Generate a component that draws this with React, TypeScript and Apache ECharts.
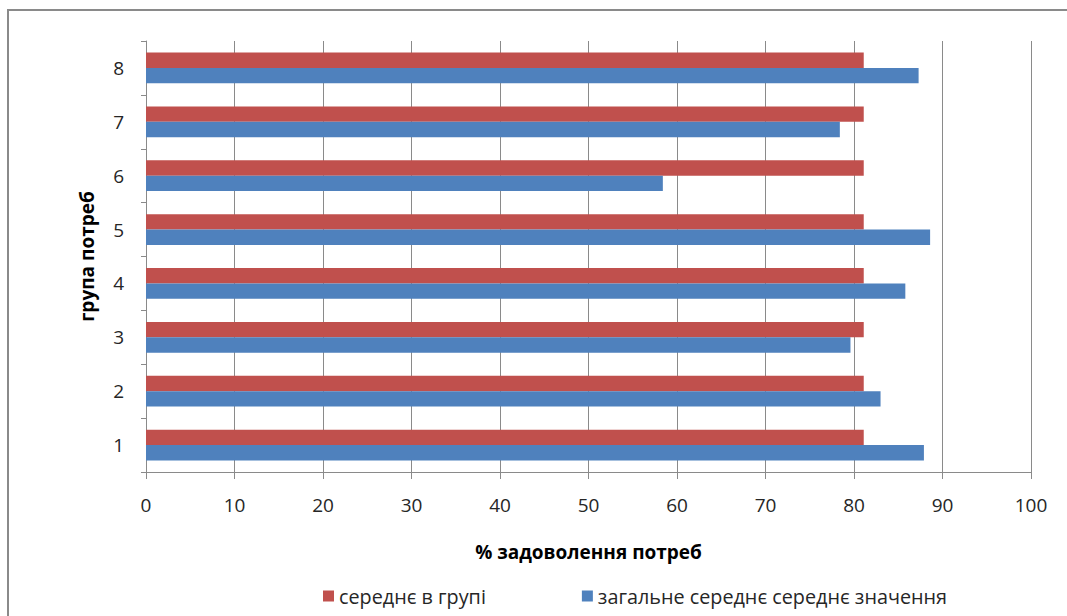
import React, { useEffect, useRef } from "react";
import * as echarts from "echarts";

const categories = ["1", "2", "3", "4", "5", "6", "7", "8"];
const groupAverage = [81.1, 81.1, 81.1, 81.1, 81.1, 81.1, 81.1, 81.1];
const overallAverage = [87.9, 83.0, 79.6, 85.8, 88.6, 58.4, 78.4, 87.3];
const seriesNames = ["середнє в групі", "загальне середнє середнє значення"];
const xAxisTitle = "% задоволення потреб";
const yAxisTitle = "група потреб";

const FONT = "'Open Sans', 'Noto Sans', sans-serif";

export default function App() {
  const ref = useRef<HTMLDivElement>(null);
  useEffect(() => {
    if (!ref.current) return;
    const chart = echarts.init(ref.current, undefined, { renderer: "svg" });
    chart.setOption({
      animation: false,
      backgroundColor: "#ffffff",
      textStyle: { fontFamily: FONT },
      graphic: [
        {
          type: "rect",
          shape: { x: 8, y: 10, width: 1080, height: 640 },
          style: { fill: "none", stroke: "#8a8a8a", lineWidth: 2 },
          silent: true,
        },
      ],
      grid: { left: 146, top: 41, right: 36, bottom: 144, containLabel: false },
      legend: {
        data: [seriesNames[0], seriesNames[1]],
        left: 318,
        top: 581,
        icon: "rect",
        itemWidth: 11,
        itemHeight: 11,
        itemGap: 96,
        textStyle: { fontFamily: FONT, fontSize: 19.8, color: "#262626" },
      },
      xAxis: {
        type: "value",
        min: 0,
        max: 100,
        interval: 10,
        name: xAxisTitle,
        nameLocation: "middle",
        nameGap: 70,
        nameTextStyle: { fontFamily: FONT, fontSize: 19, fontWeight: "bold", color: "#000" },
        axisLine: { show: true, lineStyle: { color: "#8a8a8a", width: 1 } },
        axisTick: { show: true, length: 7, lineStyle: { color: "#8a8a8a" } },
        axisLabel: { fontFamily: FONT, fontSize: 19, color: "#262626", margin: 23 },
        splitLine: { show: true, lineStyle: { color: "#8a8a8a", width: 1 } },
      },
      yAxis: {
        type: "category",
        data: categories,
        name: yAxisTitle,
        nameLocation: "middle",
        nameGap: 50,
        nameRotate: 90,
        nameTextStyle: { fontFamily: FONT, fontSize: 19, fontWeight: "bold", color: "#000" },
        axisLine: { show: true, lineStyle: { color: "#8a8a8a", width: 1 } },
        axisTick: { show: true, length: 5, alignWithLabel: false, lineStyle: { color: "#8a8a8a" } },
        axisLabel: { fontFamily: FONT, fontSize: 19, color: "#262626", margin: 22 },
        splitLine: { show: false },
      },
      series: [
        {
          name: seriesNames[0],
          type: "bar",
          data: groupAverage,
          itemStyle: { color: "#C0504D" },
          barGap: "0%",
          barCategoryGap: "43%",
        },
        {
          name: seriesNames[1],
          type: "bar",
          data: overallAverage,
          itemStyle: { color: "#4F81BD" },
          barGap: "0%",
          barCategoryGap: "43%",
        },
      ],
    });
    return () => chart.dispose();
  }, []);
  return (
    <div
      ref={ref}
      style={{ position: "fixed", left: 0, top: 0, width: 1067, height: 616 }}
    />
  );
}
